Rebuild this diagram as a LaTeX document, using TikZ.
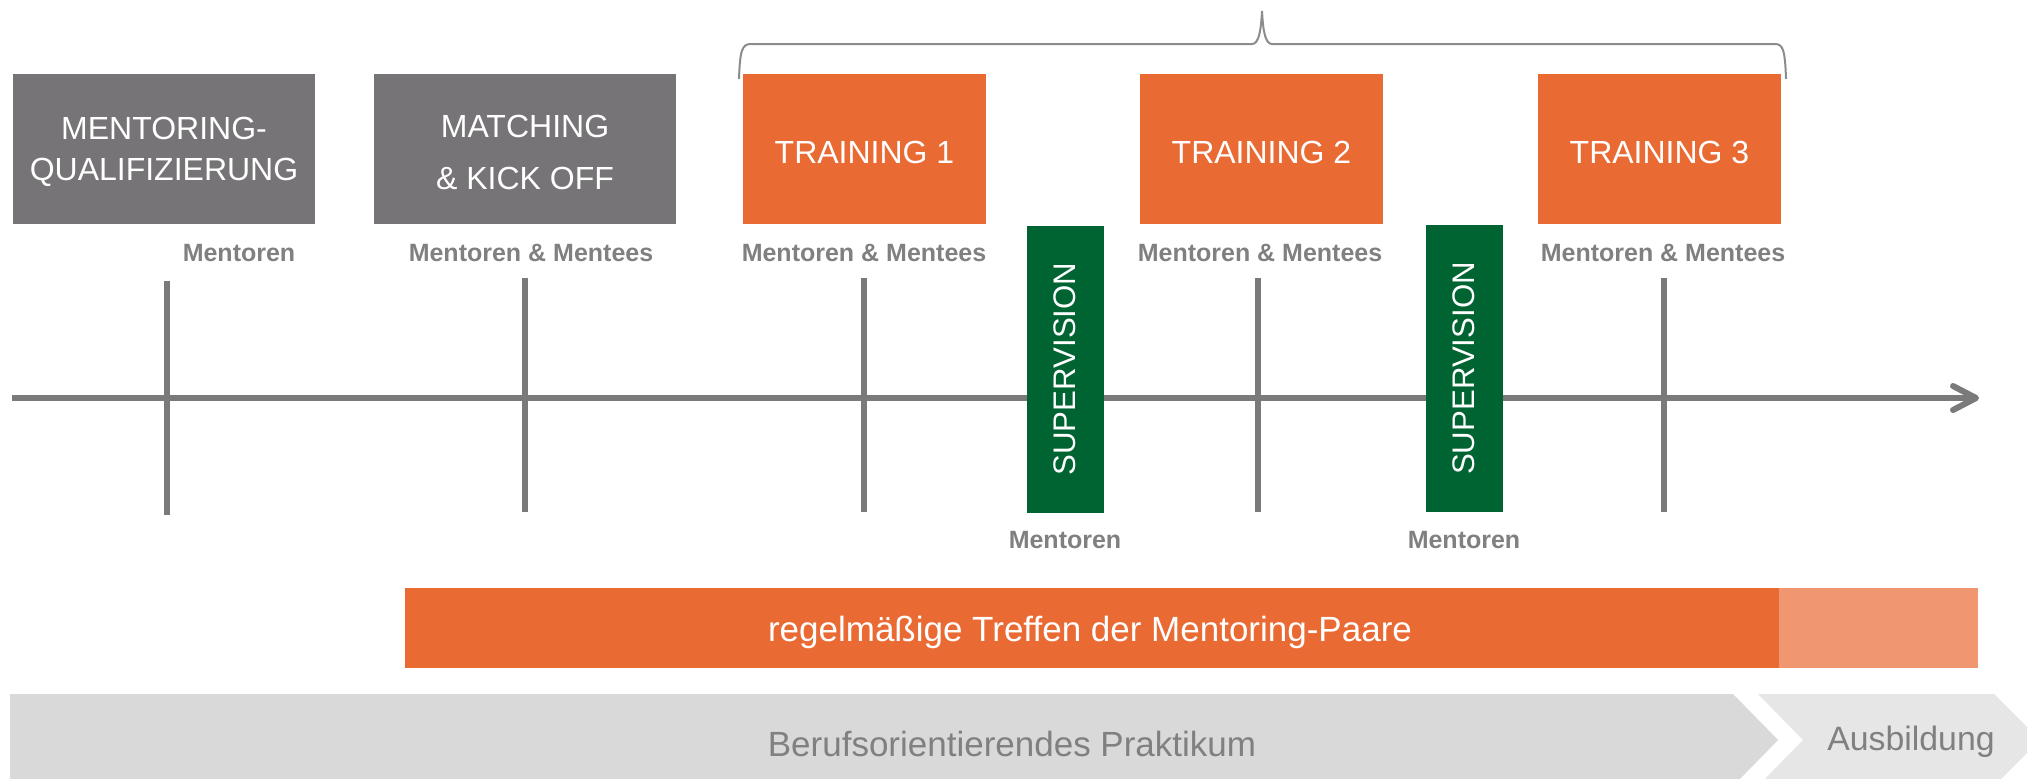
\documentclass[tikz,border=0pt]{standalone}
\usepackage{fontspec}
\setmainfont{Liberation Sans}
\definecolor{boxgray}{RGB}{118,116,118}
\definecolor{orng}{RGB}{234,106,52}
\definecolor{lorng}{RGB}{240,150,112}
\definecolor{grn}{RGB}{0,100,50}
\definecolor{axgray}{RGB}{122,122,122}
\definecolor{txtgray}{RGB}{128,128,128}
\definecolor{chevA}{RGB}{217,217,217}
\definecolor{chevB}{RGB}{230,230,230}
\definecolor{brgray}{RGB}{140,140,140}
\begin{document}
\begin{tikzpicture}[x=0.5pt,y=-0.5pt,
  phase/.style={rectangle, fill=boxgray, text=white, inner sep=0pt, minimum width=151pt, minimum height=75pt, align=center, font=\fontsize{16}{20.5}\selectfont},
  train/.style={phase, fill=orng, minimum width=121.5pt},
  boxtext/.style={text=white, inner sep=0pt, align=center, font=\fontsize{16}{20.5}\selectfont, yshift=-1.6pt},
  who/.style={text=txtgray, font=\bfseries\fontsize{12.5}{15}\selectfont, inner sep=0pt},
  supbox/.style={rectangle, fill=grn, text=white, rotate=90, minimum width=143.5pt, minimum height=38.5pt, inner sep=0pt, font=\fontsize{15.6}{18}\selectfont},
  tickline/.style={draw=axgray, line width=3pt},
  barbox/.style={rectangle, inner sep=0pt, minimum height=40pt},
  chevtext/.style={text=txtgray, font=\fontsize{17.5}{20}\selectfont, inner sep=0pt}]
\clip (0,0) rectangle (2027,778);
\fill[white] (0,0) rectangle (2027,778);
% brace
\draw[brgray, line width=1pt] (739,79) .. controls (740,50) and (742,44) .. (751,44) -- (1252,44) .. controls (1259,44) and (1261,30) .. (1262,11) .. controls (1263,30) and (1265,44) .. (1272,44) -- (1775,44) .. controls (1783,44) and (1785,50) .. (1786,79);
% top boxes
\node[phase] (q) at (164,149) {};
\node[phase] (m) at (525,149) {};
\node[train] (t1) at (864.5,149) {};
\node[train] (t2) at (1261.5,149) {};
\node[train] (t3) at (1659.5,149) {};
\node[boxtext] (qt) at (q.center) {MENTORING-\\QUALIFIZIERUNG};
\node[boxtext] (mt) at (m.center) {MATCHING\\[5.5pt]\& KICK OFF};
\node[boxtext] (t1t) at (t1.center) {TRAINING 1};
\node[boxtext] (t2t) at (t2.center) {TRAINING 2};
\node[boxtext] (t3t) at (t3.center) {TRAINING 3};
% labels
\node[who] (lq) at (239,253) {Mentoren};
\node[who] (lm) at (531,253) {Mentoren \& Mentees};
\node[who] (l1) at (864,253) {Mentoren \& Mentees};
\node[who] (l2) at (1260,253) {Mentoren \& Mentees};
\node[who] (l3) at (1663,253) {Mentoren \& Mentees};
% axis
\coordinate (axL) at (12,398);
\coordinate (axR) at (1976,398);
\coordinate (arA) at (1953,386);
\coordinate (arB) at (1953,410);
\draw[axgray, line width=3pt] (axL) -- (axR);
\draw[axgray, line width=3pt, line cap=round, line join=round] (arA) -- (axR) -- (arB);
% ticks
\coordinate (k1a) at (167,281); \coordinate (k1b) at (167,515);
\coordinate (k2a) at (525,278); \coordinate (k2b) at (525,512);
\coordinate (k3a) at (864,278); \coordinate (k3b) at (864,512);
\coordinate (k4a) at (1258,278); \coordinate (k4b) at (1258,512);
\coordinate (k5a) at (1664,278); \coordinate (k5b) at (1664,512);
\draw[tickline] (k1a) -- (k1b);
\draw[tickline] (k2a) -- (k2b);
\draw[tickline] (k3a) -- (k3b);
\draw[tickline] (k4a) -- (k4b);
\draw[tickline] (k5a) -- (k5b);
% supervision
\node[supbox] (s1) at (1065,369) {SUPERVISION};
\node[supbox] (s2) at (1464,368.5) {SUPERVISION};
\node[who] (ls1) at (1065,540) {Mentoren};
\node[who] (ls2) at (1464,540) {Mentoren};
% orange bar
\node[barbox, fill=orng, minimum width=687pt] (bar) at (1092,628) {};
\node[barbox, fill=lorng, minimum width=99.5pt] (barl) at (1878.5,628) {};
\node[text=white, font=\fontsize{17.5}{20}\selectfont, inner sep=0pt] (bart) at (1090,632) {regelmäßige Treffen der Mentoring-Paare};
% chevrons
\fill[chevA] (10,694) -- (1733,694) -- (1778,740) -- (1733,786) -- (10,786) -- cycle;
\fill[chevB] (1758,694) -- (1994,694) -- (2040,740) -- (1994,786) -- (1758,786) -- (1803,740) -- cycle;
\node[chevtext] (c1) at (1012,744) {Berufsorientierendes Praktikum};
\node[chevtext, font=\fontsize{16.9}{20}\selectfont] (c2) at (1911,742) {Ausbildung};
\end{tikzpicture}
\end{document}
